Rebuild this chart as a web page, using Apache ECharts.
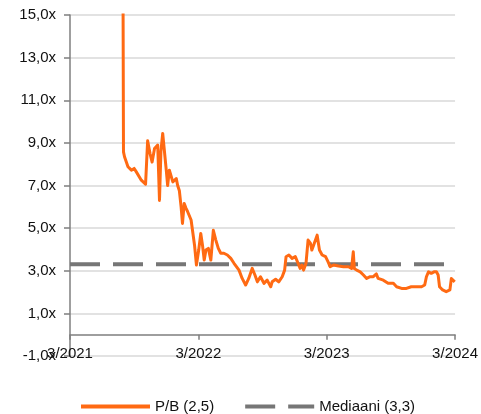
<!DOCTYPE html>
<html>
<head>
<meta charset="utf-8">
<script src="https://cdn.jsdelivr.net/npm/echarts@6/dist/echarts.min.js"></script>
<style>
  html, body { margin: 0; padding: 0; background: #fff; }
  #chart { width: 481px; height: 414px; }
</style>
</head>
<body>
<div id="chart"></div>
<script>
// P/B multiple history (dates and values)
const pbDates = [
  '2021-07-30','2021-08-01','2021-08-04','2021-08-14','2021-08-24','2021-09-01','2021-09-07','2021-09-21',
  '2021-10-03','2021-10-07','2021-10-09','2021-10-16','2021-10-22','2021-10-29','2021-11-07','2021-11-12',
  '2021-11-16','2021-11-21','2021-12-01','2021-12-05','2021-12-10','2021-12-20','2021-12-30','2022-01-03',
  '2022-01-08','2022-01-13','2022-01-17','2022-01-22','2022-01-27','2022-02-01','2022-02-10','2022-02-19',
  '2022-02-24','2022-03-02','2022-03-08','2022-03-13','2022-03-18','2022-03-23','2022-03-30','2022-04-06',
  '2022-04-13','2022-04-20','2022-04-27','2022-05-04','2022-05-13','2022-05-23','2022-06-02','2022-06-11',
  '2022-06-25','2022-07-04','2022-07-14','2022-07-23','2022-08-02','2022-08-10','2022-08-17','2022-08-26',
  '2022-09-05','2022-09-14','2022-09-24','2022-09-28','2022-10-08','2022-10-17','2022-10-27','2022-11-03',
  '2022-11-07','2022-11-15','2022-11-24','2022-12-03','2022-12-11','2022-12-17','2022-12-22','2022-12-27',
  '2023-01-03','2023-01-09','2023-01-16','2023-01-20','2023-01-25','2023-01-30','2023-02-04','2023-02-08',
  '2023-02-10','2023-02-17','2023-02-26','2023-03-05','2023-03-11','2023-03-21','2023-04-04','2023-04-18',
  '2023-05-02','2023-05-11','2023-05-16','2023-05-19','2023-05-26','2023-06-05','2023-06-14','2023-06-23',
  '2023-07-03','2023-07-12','2023-07-21','2023-07-26','2023-08-10','2023-08-24','2023-09-08','2023-09-17',
  '2023-10-01','2023-10-15','2023-10-29','2023-11-13','2023-11-27','2023-12-06','2023-12-11','2023-12-17',
  '2023-12-25','2024-01-02','2024-01-09','2024-01-14','2024-01-18','2024-01-27','2024-02-06','2024-02-16',
  '2024-02-20','2024-02-29'
];
const pbValues = [
  20.0, 8.58, 8.35, 7.88, 7.72, 7.80, 7.64, 7.25,
  7.06, 7.10, 9.10, 8.50, 8.10, 8.74, 8.90, 6.30,
  8.60, 9.44, 7.72, 7.00, 7.72, 7.17, 7.33, 7.00,
  6.75, 6.00, 5.22, 6.16, 5.94, 5.77, 5.38, 4.20,
  3.27, 3.97, 4.75, 4.20, 3.50, 3.97, 4.05, 3.50,
  4.90, 4.44, 4.05, 3.82, 3.82, 3.74, 3.58, 3.35,
  3.03, 2.64, 2.33, 2.64, 3.11, 2.80, 2.48, 2.72,
  2.41, 2.56, 2.25, 2.48, 2.60, 2.48, 2.72, 3.03,
  3.66, 3.74, 3.58, 3.66, 3.35, 3.11, 3.27, 3.03,
  3.35, 4.44, 4.28, 3.97, 4.20, 4.13, 4.67, 4.75,
  3.97, 3.74, 3.66, 3.42, 3.19, 3.27, 3.22, 3.19,
  3.19, 3.11, 3.89, 3.11, 3.03, 2.95, 2.80, 2.64,
  2.72, 2.72, 2.85, 2.64, 2.56, 2.41, 2.41, 2.25,
  2.17, 2.17, 2.25, 2.25, 2.25, 2.33, 2.72, 2.95,
  2.88, 2.95, 2.95, 2.80, 2.25, 2.10, 2.02, 2.10,
  2.64, 2.48
];

// Median of the period
const medianValue = 3.3;
const medianDates = ['2021-03-01', '2024-03-01'];

const seriesNames = ['P/B (2,5)', 'Mediaani (3,3)'];
const xTickLabels = ['3/2021', '3/2022', '3/2023', '3/2024'];
const yTicks = [-1, 1, 3, 5, 7, 9, 11, 13, 15];

// Horizontal axis counts months from March 2021
function monthOffset(s) {
  const [y, m, d] = s.split('-').map(Number);
  const dim = new Date(y, m, 0).getDate();
  return (y - 2021) * 12 + (m - 3) + (d - 1) / dim;
}

const pbData = pbDates.map((d, i) => [monthOffset(d), pbValues[i]]);
const medianData = medianDates.map(d => [monthOffset(d), medianValue]);

const FONT = 'Liberation Sans, Arial, sans-serif';
const TEXT = '#111111';
const chart = echarts.init(document.getElementById('chart'), null, { renderer: 'canvas' });

chart.setOption({
  animation: false,
  backgroundColor: '#ffffff',
  grid: { left: 70, right: 24, top: 15, bottom: 58 },
  xAxis: {
    type: 'value',
    min: 0,
    max: 36,
    interval: 12,
    axisLine: { onZero: true, lineStyle: { color: '#7f7f7f', width: 1.5 } },
    axisTick: { show: true, length: 5, lineStyle: { color: '#7f7f7f', width: 1.5 } },
    splitLine: { show: false },
    axisLabel: {
      margin: -10,
      color: TEXT,
      fontFamily: FONT,
      fontSize: 15,
      formatter: v => xTickLabels[Math.round(v / 12)] || ''
    }
  },
  yAxis: {
    type: 'value',
    min: yTicks[0],
    max: yTicks[yTicks.length - 1],
    interval: 2,
    axisLine: { show: true, onZero: false, lineStyle: { color: '#7f7f7f', width: 1.5 } },
    axisTick: { show: true, length: 6, lineStyle: { color: '#7f7f7f', width: 1.5 } },
    splitLine: { show: true, lineStyle: { color: '#d9d9d9', width: 1.5 } },
    axisLabel: {
      margin: 14,
      color: TEXT,
      fontFamily: FONT,
      fontSize: 15,
      formatter: v => v.toFixed(1).replace('.', ',') + 'x'
    }
  },
  legend: {
    left: 76,
    top: 394,
    itemWidth: 69,
    itemHeight: 14,
    itemGap: 31,
    textStyle: { color: TEXT, fontFamily: FONT, fontSize: 15 },
    data: [
      { name: seriesNames[0], icon: 'path://M0,0 L69,0 L69,4 L0,4 Z' },
      { name: seriesNames[1], icon: 'path://M0,0 L30,0 L30,4 L0,4 Z M43,0 L69,0 L69,4 L43,4 Z' }
    ]
  },
  series: [
    {
      name: seriesNames[0],
      type: 'line',
      data: pbData,
      symbol: 'none',
      clip: true,
      z: 3,
      itemStyle: { color: '#ff6a13' },
      lineStyle: { color: '#ff6a13', width: 3, join: 'round' }
    },
    {
      name: seriesNames[1],
      type: 'line',
      data: medianData,
      symbol: 'none',
      z: 2,
      itemStyle: { color: '#767676' },
      lineStyle: { color: '#767676', width: 4, type: [30, 13], cap: 'butt' }
    }
  ]
});
</script>
</body>
</html>
